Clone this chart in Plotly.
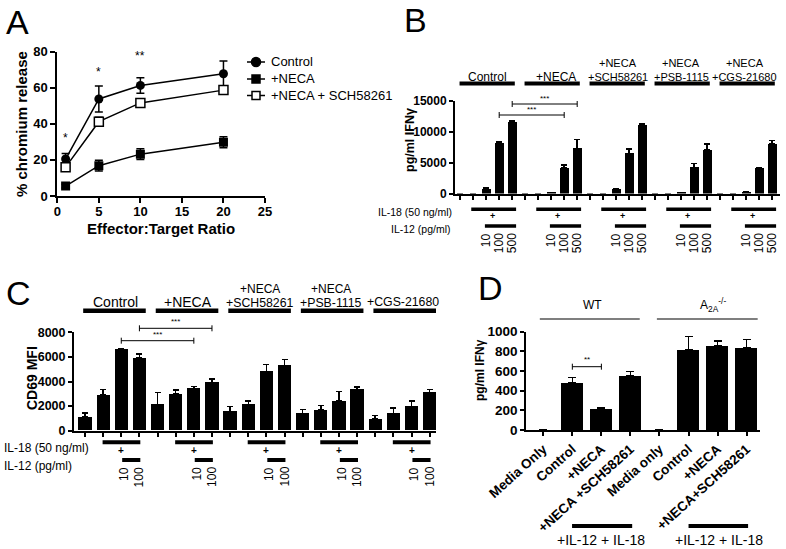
import plotly.graph_objects as go

W, H = 786, 549
FONT = "Liberation Sans, Arial, Helvetica, sans-serif"


def px(p):
    return p / W


def py(p):
    return 1 - p / H


# ---------------- Panel A data ----------------
a_ratio = [1, 5, 10, 20]
a_control = [20.5, 53.8, 61.3, 67.8]
a_control_err = [3, 7.2, 4.3, 7]
a_neca = [5.5, 16.8, 23.2, 29.8]
a_neca_err = [1, 3, 3, 3]
a_sch = [16, 41.2, 51.6, 58.7]
a_sch_err = [2, 2.5, 2, 1.5]
a_series = ["Control", "+NECA", "+NECA + SCH58261"]
a_sig = ["*", "*", "**", "*"]
a_sig_y = [32, 69, 77.5, 84.5]

# ---------------- Panel B data ----------------
b_groups = [["Control"], ["+NECA"], ["+NECA", "+SCH58261"], ["+NECA", "+PSB-1115"], ["+NECA", "+CGS-21680"]]
b_group_label_pos = [2.1, 2.35, 2.15, 2.0, 1.9]
b_il12 = ["10", "100", "500"]
b_control = [0, 0, 810, 8120, 11650]
b_control_err = [None, None, 100, 250, 100]
b_neca = [0, 0, 150, 4180, 7300]
b_neca_err = [None, None, 40, 480, 1480]
b_sch = [0, 0, 700, 6500, 11100]
b_sch_err = [None, None, 80, 750, 280]
b_psb = [0, 0, 150, 4230, 7050]
b_psb_err = [None, None, 40, 600, 960]
b_cgs = [0, 0, 180, 4110, 8010]
b_cgs_err = [None, None, 40, 60, 550]

# ---------------- Panel C data ----------------
c_groups = [["Control"], ["+NECA"], ["+NECA", "+SCH58261"], ["+NECA", "+PSB-1115"], ["+CGS-21680"]]
c_group_label_pos = [1.7, 1.7, 1.62, 1.55, 1.52]
c_il12 = ["10", "100"]
c_control = [1120, 2900, 6610, 5890]
c_control_err = [300, 460, 60, 330]
c_neca = [2110, 2980, 3420, 3930]
c_neca_err = [1000, 330, 190, 270]
c_sch = [1570, 2110, 4800, 5290]
c_sch_err = [380, 300, 570, 490]
c_psb = [1400, 1680, 2410, 3330]
c_psb_err = [330, 350, 760, 240]
c_cgs = [950, 1410, 1980, 3110]
c_cgs_err = [270, 430, 430, 250]

# ---------------- Panel D data ----------------
d_labels = ["Media Only", "Control", "+NECA", "+NECA +SCH58261",
            "Media only", "Control", "+NECA", "+NECA+SCH58261"]
d_values = [0, 485, 215, 549, 0, 820, 854, 837]
d_err = [None, 50, 7, 44, None, 129, 51, 85]

fig = go.Figure()

# ---- Panel A traces ----
a_vals = [a_control, a_neca, a_sch]
a_errs = [a_control_err, a_neca_err, a_sch_err]
a_markers = [dict(symbol="circle", size=9, color="black"),
             dict(symbol="square", size=9, color="black"),
             dict(symbol="square", size=9, color="white", line=dict(color="black", width=1.5))]
for name, vals, errs, mk in zip(a_series, a_vals, a_errs, a_markers):
    fig.add_trace(go.Scatter(
        x=a_ratio, y=vals, mode="lines+markers", name=name, marker=mk,
        line=dict(color="black", width=1.5),
        error_y=dict(type="data", array=errs, color="black", thickness=1.5, width=4),
        xaxis="x", yaxis="y", showlegend=False))

# ---- Panel B trace ----
b_all = [b_control, b_neca, b_sch, b_psb, b_cgs]
b_all_err = [b_control_err, b_neca_err, b_sch_err, b_psb_err, b_cgs_err]
b_y = [v for g in b_all for v in g]
b_e = [v for g in b_all_err for v in g]
b_x = list(range(len(b_y)))
fig.add_trace(go.Bar(
    x=b_x, y=b_y, width=0.7, marker=dict(color="black", line=dict(width=0)),
    error_y=dict(type="data", array=b_e, arrayminus=[0] * len(b_e), symmetric=False,
                 color="black", thickness=1.5, width=3),
    xaxis="x2", yaxis="y2", showlegend=False))

# ---- Panel C trace ----
c_all = [c_control, c_neca, c_sch, c_psb, c_cgs]
c_all_err = [c_control_err, c_neca_err, c_sch_err, c_psb_err, c_cgs_err]
c_y = [v for g in c_all for v in g]
c_e = [v for g in c_all_err for v in g]
c_x = list(range(len(c_y)))
fig.add_trace(go.Bar(
    x=c_x, y=c_y, width=0.73, marker=dict(color="black", line=dict(width=0)),
    error_y=dict(type="data", array=c_e, arrayminus=[0] * len(c_e), symmetric=False,
                 color="black", thickness=1.5, width=3),
    xaxis="x3", yaxis="y3", showlegend=False))

# ---- Panel D trace ----
d_x = list(range(len(d_labels)))
fig.add_trace(go.Bar(
    x=d_x, y=d_values, width=0.75, marker=dict(color="black", line=dict(width=0)),
    error_y=dict(type="data", array=d_err, arrayminus=[0] * len(d_err), symmetric=False,
                 color="black", thickness=1.5, width=4),
    xaxis="x4", yaxis="y4", showlegend=False))


def axis_style(size=13, **kw):
    d = dict(showline=True, linecolor="black", linewidth=2, ticks="outside", ticklen=5,
             tickwidth=2, tickcolor="black", showgrid=False, zeroline=False,
             automargin=False, tickformat="d",
             tickfont=dict(family=FONT, size=size, color="black", weight="bold"))
    d.update(kw)
    return d


fig.update_layout(
    template="none",
    width=W, height=H, autosize=False,
    margin=dict(l=0, r=0, t=0, b=0, pad=0),
    paper_bgcolor="white", plot_bgcolor="white",
    font=dict(family=FONT, color="black"),
    bargap=0, showlegend=False,
    xaxis=axis_style(13, domain=[px(57.3), px(265)], range=[0, 25], tickvals=[0, 5, 10, 15, 20, 25],
                     ticklabelstandoff=-3, anchor="y"),
    yaxis=axis_style(13, domain=[py(196), py(51.7)], range=[0, 80], tickvals=[0, 20, 40, 60, 80], anchor="x"),
    xaxis2=axis_style(12, domain=[px(455), px(780)], range=[-0.4, 24.6], tickvals=b_x,
                      showticklabels=False, ticklen=4, tickwidth=1.5, anchor="y2"),
    yaxis2=axis_style(12, domain=[py(193.5), py(101)], range=[0, 15000],
                      tickvals=[0, 5000, 10000, 15000], ticklen=4, anchor="x2"),
    xaxis3=axis_style(13, domain=[px(74), px(436)], range=[-0.606, 19.35], tickvals=c_x,
                      showticklabels=False, ticklen=4, tickwidth=1.5, anchor="y3"),
    yaxis3=axis_style(12.5, domain=[py(430.7), py(332.3)], range=[0, 8000],
                      tickvals=[0, 2000, 4000, 6000, 8000], ticklen=4, anchor="x3"),
    xaxis4=axis_style(13.5, domain=[px(526.3), px(760)], range=[-0.585, 7.46], tickvals=d_x,
                      ticktext=d_labels, tickangle=-42, ticklen=4, anchor="y4"),
    yaxis4=axis_style(13.5, domain=[py(430), py(331.7)], range=[0, 1000],
                      tickvals=[0, 200, 400, 600, 800, 1000], ticklen=4, anchor="x4"),
)

ann = []
shapes = []


def text(x, y, t, size=12, xref="paper", yref="paper", bold=False, angle=0,
         xanchor="center", yanchor="middle"):
    ann.append(dict(x=x, y=y, xref=xref, yref=yref, text=t, showarrow=False,
                    textangle=angle, xanchor=xanchor, yanchor=yanchor,
                    font=dict(family=FONT, size=size, color="black",
                              weight="bold" if bold else "normal")))


def hline(x0, x1, y, xref, width):
    shapes.append(dict(type="line", xref=xref, yref="paper", x0=x0, x1=x1,
                       y0=py(y), y1=py(y), line=dict(color="black", width=width)))


def bracket(x0, x1, y, xref, stars, star_y, star_x):
    hline(x0, x1, y, xref, 1)
    for xx in (x0, x1):
        shapes.append(dict(type="line", xref=xref, yref="paper", x0=xx, x1=xx,
                           y0=py(y - 3), y1=py(y + 3), line=dict(color="black", width=1)))
    text(star_x, py(star_y), stars, size=8, xref=xref)


# Panel letters
text(px(17), py(22), "A", size=34)
text(px(416), py(20), "B", size=34)
text(px(18), py(293), "C", size=34)
text(px(490), py(288), "D", size=34)

# ---- Panel A annotations ----
text(px(22), py(124), "% chromium release", size=15, bold=True, angle=-90)
text(px(161), py(228), "Effector:Target Ratio", size=15, bold=True)
for xv, s, yv in zip(a_ratio, a_sig, a_sig_y):
    text(xv, yv, s, size=12, xref="x", yref="y")

# legend for panel A (drawn as key)
leg_y = [62, 79, 95.5]
for name, yy, mk in zip(a_series, leg_y, a_markers):
    hline(px(247), px(265), yy, "paper", 1.5)
    fill = mk["color"]
    if mk["symbol"] == "circle":
        shapes.append(dict(type="circle", xref="paper", yref="paper",
                           x0=px(251.5), x1=px(260.5), y0=py(yy + 4.5), y1=py(yy - 4.5),
                           fillcolor=fill, line=dict(color="black", width=1.5)))
    else:
        shapes.append(dict(type="rect", xref="paper", yref="paper",
                           x0=px(252), x1=px(260), y0=py(yy + 4), y1=py(yy - 4),
                           fillcolor=fill, line=dict(color="black", width=1.5)))
    text(px(269), py(yy), name, size=13, xanchor="left")

# ---- Panel B annotations ----
text(px(410), py(140), "pg/ml IFNγ", size=12.5, bold=True, angle=-90)
text(px(454), py(212), "IL-18 (50 ng/ml)", size=10.5, xanchor="right")
text(px(453), py(229), "IL-12 (pg/ml)", size=10.5, xanchor="right")
n_b = len(b_control)
for g, (lines, lp) in enumerate(zip(b_groups, b_group_label_pos)):
    base = g * n_b
    hline(base - 0.05, base + 4.2, 83.5, "x2", 4)
    if len(lines) == 1:
        text(base + lp, py(77), lines[0], size=12, xref="x2")
    else:
        text(base + lp, py(63.3), lines[0], size=11, xref="x2")
        text(base + lp, py(77.3), lines[1], size=11, xref="x2")
    hline(base + 0.85, base + 4.3, 209.3, "x2", 3.5)
    text(base + 2.5, py(216.5), "+", size=9, xref="x2", bold=True)
    hline(base + 1.9, base + 4.3, 226, "x2", 3.5)
    for k, lab in enumerate(b_il12):
        text(base + 2 + k, py(231), lab, size=12, xref="x2", angle=-90, yanchor="top")
bracket(3, 8, 115, "x2", "***", 109.5, 5.5)
bracket(4, 9, 104, "x2", "***", 98, 6.5)

# ---- Panel C annotations ----
text(px(32), py(378), "CD69 MFI", size=14, bold=True, angle=-90)
text(px(2), py(447.7), "IL-18 (50 ng/ml)", size=12, xanchor="left")
text(px(2), py(466), "IL-12 (pg/ml)", size=12, xanchor="left")
n_c = len(c_control)
for g, (lines, lp) in enumerate(zip(c_groups, c_group_label_pos)):
    base = g * n_c
    hline(base - 0.1, base + 3.35, 310.7, "x3", 4.5)
    if len(lines) == 1:
        text(base + lp, py(302), lines[0], size=14 if g < 2 else 12.3, xref="x3")
    else:
        text(base + lp, py(289.3), lines[0], size=12, xref="x3")
        text(base + lp, py(303.3), lines[1], size=12.3, xref="x3")
    hline(base + 0.97, base + 3.05, 442.3, "x3", 4)
    text(base + 2.0, py(450.5), "+", size=10, xref="x3", bold=True)
    hline(base + 2.05, base + 3.05, 460, "x3", 4)
    for k, lab in enumerate(c_il12):
        text(base + 2.15 + 0.85 * k, py(465), lab, size=12, xref="x3", angle=-90, yanchor="top")
bracket(2, 6, 340.7, "x3", "***", 334, 4)
bracket(3, 7, 328.3, "x3", "***", 321.5, 5)

# ---- Panel D annotations ----
text(px(480), py(370), "pg/ml IFNγ", size=12, bold=True, angle=-90)
hline(-0.12, 3.32, 319, "x4", 1.2)
hline(3.91, 7.38, 319, "x4", 1.2)
text(1.71, py(305), "WT", size=12, xref="x4")
text(5.84, py(305), "A<sub>2A</sub><sup>-/-</sup>", size=12, xref="x4")
hline(0.99, 3.06, 526, "x4", 4)
hline(5.0, 7.05, 526, "x4", 4)
text(2.0, py(540), "+IL-12 + IL-18", size=14, xref="x4")
text(6.05, py(540), "+IL-12 + IL-18", size=14, xref="x4")
bracket(1, 2, 366.7, "x4", "**", 359, 1.5)

fig.update_layout(annotations=ann, shapes=shapes)
fig.write_html("out.html", config={"displayModeBar": False},
               post_script="document.body.style.margin='0';document.body.style.overflow='hidden';")
